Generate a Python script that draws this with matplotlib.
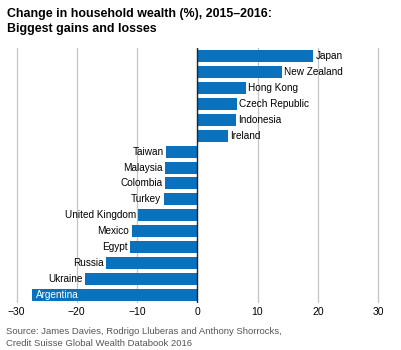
import matplotlib
matplotlib.use("Agg")
import matplotlib.pyplot as plt

countries = ["Japan", "New Zealand", "Hong Kong", "Czech Republic", "Indonesia", "Ireland",
             "Taiwan", "Malaysia", "Colombia", "Turkey", "United Kingdom", "Mexico",
             "Egypt", "Russia", "Ukraine", "Argentina"]
values = [19.2, 14.0, 8.1, 6.6, 6.4, 5.1,
          -5.2, -5.4, -5.4, -5.6, -9.8, -10.9,
          -11.1, -15.1, -18.6, -27.4]
xticks = [-30, -20, -10, 0, 10, 20, 30]
xticklabels = ["\u221230", "\u221220", "\u221210", "0", "10", "20", "30"]
title = "Change in household wealth (%), 2015\u20132016:\nBiggest gains and losses"
source = "Source: James Davies, Rodrigo Lluberas and Anthony Shorrocks,\nCredit Suisse Global Wealth Databook 2016"

plt.rcParams['font.family'] = ['Liberation Sans', 'DejaVu Sans']

fig = plt.figure(figsize=(4.02, 3.5), dpi=100)
ax = fig.add_axes([16.5/402 - 0.5*(361.5/60)/402, 1 - 303/350, (361.5 + 6.03)/402, (303 - 48)/350])
ax.set_xlim(-30.5, 30.5)
ax.set_ylim(15.53, -0.53)

color = "#0a71bd"
pos = list(range(len(countries)))
ax.barh(pos, values, height=0.76, color=color, zorder=2)

for x in xticks:
    if x == 0:
        continue
    ax.axvline(x, color="#c4c4c4", lw=0.9, zorder=1)
ax.axvline(0, color="#222222", lw=1.0, zorder=3)

for i, (c, v) in enumerate(zip(countries, values)):
    if c == "Argentina":
        ax.text(v + 0.7, i, c, color="white", fontsize=7.2, va="center", ha="left", zorder=4)
    elif v >= 0:
        ax.text(v + 0.4, i, c, color="black", fontsize=7.2, va="center", ha="left", zorder=4)
    else:
        ax.text(v - 0.4, i, c, color="black", fontsize=7.2, va="center", ha="right", zorder=4)

ax.set_xticks(xticks)
ax.set_xticklabels(xticklabels, fontsize=7.5)
ax.tick_params(axis="x", length=0, pad=3)
ax.set_yticks([])
for s in ax.spines.values():
    s.set_visible(False)

fig.text(7/402, 1 - 8/350, title, fontsize=8.9, fontweight="bold", va="top", ha="left",
         linespacing=1.3)
fig.text(6/402, 1 - 327/350, source, fontsize=6.8, color="#555555", va="top", ha="left",
         linespacing=1.45)

fig.savefig("out.png", dpi=100, facecolor="white")
